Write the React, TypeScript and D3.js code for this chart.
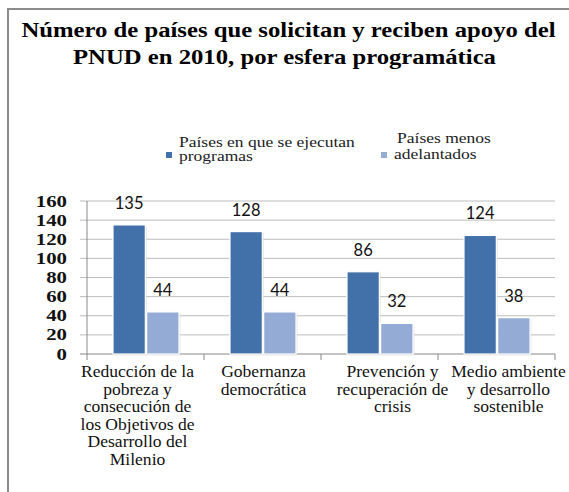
import React from "react";
import * as d3 from "d3";

const titleLines = [
  "Número de países que solicitan y reciben apoyo del",
  "PNUD en 2010, por esfera programática",
];
const categories = [
  ["Reducción de la", "pobreza y", "consecución de", "los Objetivos de", "Desarrollo del", "Milenio"],
  ["Gobernanza", "democrática"],
  ["Prevención y", "recuperación de", "crisis"],
  ["Medio ambiente", "y desarrollo", "sostenible"],
];
const seriesNames = [
  ["Países en que se ejecutan", "programas"],
  ["Países menos", "adelantados"],
];
const programCountries = [135, 128, 86, 124];
const leastDeveloped = [44, 44, 32, 38];
const yTicks = [0, 20, 40, 60, 80, 100, 120, 140, 160];

const W = 569;
const H = 492;
const colors = ["#4270A8", "#93ABD5"];
const serif = "Liberation Serif, Times New Roman, serif";
const sans = "Lato, Liberation Sans, sans-serif";
// horizontal nudges of the wrapped category labels, as in the reference
const labelNudge = [-8, 1, 13, 12];

export default function App() {
  const x0 = 87, x1 = 555, yTop = 201, yBot = 354;
  const x = d3.scaleBand<number>().domain(d3.range(categories.length)).range([x0, x1]).padding(0);
  const y = d3.scaleLinear().domain([0, 160]).range([yBot, yTop]);
  const inner = d3.scaleBand<number>().domain([0, 1]).range([26, 92]).paddingInner(0.04);
  const series = [programCountries, leastDeveloped];
  const sxT = 1.235;
  const sxL = 1.13;
  const sxC = 1.097;
  const serifStyle = { fontFamily: serif };
  const titlePos = [
    [288.5, 36.5],
    [284.5, 64],
  ];
  return (
    <div style={{ position: "absolute", left: 0, top: 0 }}>
      <svg width={W} height={H} style={{ display: "block", background: "#fff" }}>
        <rect x={8} y={9} width={600} height={520} fill="#fff" stroke="#8c8c8c" strokeWidth={2} />
        {titleLines.map((t, i) => (
          <text key={i} transform={`translate(${titlePos[i][0]},${titlePos[i][1]}) scale(${sxT},1)`} textAnchor="middle"
            style={serifStyle} fontWeight="bold" fontSize={20} fill="#000">{t}</text>
        ))}
        {/* legend */}
        <rect x={166} y={152} width={6} height={6} fill={colors[0]} />
        <text transform={`translate(179,147) scale(${sxL},1)`} style={serifStyle} fontSize={15.5} fill="#222">{seriesNames[0][0]}</text>
        <text transform={`translate(179,161) scale(${sxL},1)`} style={serifStyle} fontSize={15.5} fill="#222">{seriesNames[0][1]}</text>
        <rect x={381} y={152} width={6} height={6} fill={colors[1]} />
        <text transform={`translate(444,143) scale(${sxL},1)`} textAnchor="middle" style={serifStyle} fontSize={15.5} fill="#222">{seriesNames[1][0]}</text>
        <text transform={`translate(394,159) scale(${sxL},1)`} style={serifStyle} fontSize={15.5} fill="#222">{seriesNames[1][1]}</text>
        {/* gridlines */}
        {yTicks.map((t) => (
          <line key={t} x1={80} x2={x1} y1={y(t)} y2={y(t)} stroke={t === 0 ? "#888" : "#bdbdbd"} strokeWidth={1} />
        ))}
        <line x1={x0} x2={x0} y1={yTop} y2={yBot + 6} stroke="#888" />
        {d3.range(1, categories.length + 1).map((i) => {
          const xx = i < categories.length ? x(i)! : x1;
          return <line key={i} x1={xx} x2={xx} y1={yBot} y2={yBot + 6} stroke="#888" />;
        })}
        {yTicks.map((t) => (
          <text key={t} transform={`translate(67,${y(t)}) scale(1.3,1)`} textAnchor="end" dominantBaseline="central"
            style={serifStyle} fontWeight="bold" fontSize={16} fill="#111">{t}</text>
        ))}
        {/* bars */}
        {categories.map((_, ci) =>
          series.map((s, si) => {
            const bx = x(ci)! + inner(si)!;
            const bw = inner.bandwidth();
            return (
              <g key={`${ci}-${si}`}>
                <rect x={bx + 1.5} y={y(s[ci]) + 1.5} width={bw} height={yBot - y(s[ci])} fill="#d8d8d8" opacity={0.6} />
                <rect x={bx} y={y(s[ci])} width={bw} height={yBot - y(s[ci])} fill={colors[si]} stroke="#fff" strokeWidth={1.2} />
                <text x={bx + bw / 2} y={y(s[ci]) - 16} textAnchor="middle" style={{ fontFamily: sans }} fontSize={16.5} fill="#111">{s[ci]}</text>
              </g>
            );
          })
        )}
        {/* category labels */}
        {categories.map((lines, ci) => (
          <g key={ci}>
            {lines.map((l, li) => (
              <text key={li} transform={`translate(${x(ci)! + x.bandwidth() / 2 + labelNudge[ci]},${377 + li * 17.5}) scale(${sxC},1)`} textAnchor="middle"
                style={serifStyle} fontSize={16} fill="#111">{l}</text>
            ))}
          </g>
        ))}
      </svg>
    </div>
  );
}
